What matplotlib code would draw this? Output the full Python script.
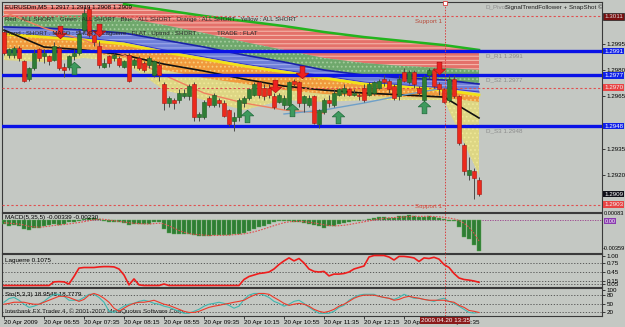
import matplotlib
matplotlib.use("Agg")
import matplotlib.pyplot as plt
from matplotlib.path import Path
from matplotlib.transforms import blended_transform_factory as btf

# ---------------- data ----------------
open_ = [1.3002, 1.2989, 1.2989, 1.2993, 1.2985, 1.2975, 1.2981, 1.2992, 1.2988, 1.2988,
         1.2986, 1.2993, 1.2982, 1.2982, 1.2988, 1.2990, 1.3003, 1.3015, 1.3000, 1.2994,
         1.2982, 1.2988, 1.2987, 1.2987, 1.2982, 1.2989, 1.2983, 1.2987, 1.2984, 1.2983,
         1.2977, 1.2983, 1.2972, 1.2961, 1.2963, 1.2963, 1.2965, 1.2965, 1.2972, 1.2953,
         1.2953, 1.2964, 1.2960, 1.2963, 1.2961, 1.2957, 1.2951, 1.2953, 1.2961, 1.2964,
         1.2966, 1.2973, 1.2970, 1.2970, 1.2965, 1.2962, 1.2960, 1.2960, 1.2974, 1.2973,
         1.2961, 1.2960, 1.2965, 1.2949, 1.2956, 1.2963, 1.2960, 1.2966, 1.2967, 1.2969,
         1.2966, 1.2966, 1.2970, 1.2966, 1.2967, 1.2970, 1.2975, 1.2974, 1.2971, 1.2965,
         1.2979, 1.2973, 1.2979, 1.2970, 1.2963, 1.2977, 1.2980, 1.2972, 1.2969, 1.2963,
         1.2975, 1.2965, 1.2937, 1.2920, 1.2922, 1.2917]
high = [1.3003, 1.2993, 1.2994, 1.2994, 1.2986, 1.2982, 1.2992, 1.2993, 1.2992, 1.2989,
        1.2996, 1.2994, 1.2984, 1.2989, 1.2992, 1.3003, 1.3017, 1.3017, 1.3001, 1.2997,
        1.2987, 1.2989, 1.2990, 1.2988, 1.2986, 1.2990, 1.2987, 1.2988, 1.2985, 1.2988,
        1.2986, 1.2985, 1.2973, 1.2965, 1.2964, 1.2969, 1.2969, 1.2972, 1.2973, 1.2956,
        1.2963, 1.2965, 1.2967, 1.2964, 1.2963, 1.2958, 1.2956, 1.2964, 1.2965, 1.2970,
        1.2973, 1.2974, 1.2972, 1.2972, 1.2967, 1.2967, 1.2966, 1.2974, 1.2975, 1.2974,
        1.2966, 1.2966, 1.2966, 1.2958, 1.2964, 1.2966, 1.2969, 1.2970, 1.2972, 1.2970,
        1.2969, 1.2967, 1.2972, 1.2973, 1.2974, 1.2975, 1.2977, 1.2975, 1.2972, 1.2977,
        1.2981, 1.2980, 1.2980, 1.2971, 1.2977, 1.2981, 1.2981, 1.2973, 1.2970, 1.2977,
        1.2977, 1.2966, 1.2938, 1.2930, 1.2924, 1.2919]
low = [1.2989, 1.2987, 1.2987, 1.2985, 1.2973, 1.2974, 1.2980, 1.2985, 1.2984, 1.2983,
       1.2985, 1.2980, 1.2976, 1.2980, 1.2986, 1.2989, 1.3002, 1.2999, 1.2994, 1.2981,
       1.2981, 1.2982, 1.2985, 1.2982, 1.2981, 1.2973, 1.2981, 1.2980, 1.2979, 1.2981,
       1.2976, 1.2974, 1.2957, 1.2959, 1.2958, 1.2961, 1.2964, 1.2963, 1.2951, 1.2951,
       1.2952, 1.2959, 1.2959, 1.2959, 1.2953, 1.2948, 1.2945, 1.2951, 1.2959, 1.2963,
       1.2965, 1.2964, 1.2963, 1.2964, 1.2958, 1.2961, 1.2958, 1.2959, 1.2971, 1.2959,
       1.2956, 1.2959, 1.2949, 1.2947, 1.2955, 1.2959, 1.2959, 1.2965, 1.2965, 1.2965,
       1.2965, 1.2963, 1.2962, 1.2965, 1.2966, 1.2969, 1.2971, 1.2967, 1.2963, 1.2963,
       1.2973, 1.2972, 1.2970, 1.2966, 1.2962, 1.2975, 1.2970, 1.2966, 1.2961, 1.2962,
       1.2964, 1.2937, 1.2920, 1.2917, 1.2906, 1.2908]
close = [1.2990, 1.2992, 1.2993, 1.2987, 1.2974, 1.2981, 1.2990, 1.2987, 1.2990, 1.2985,
         1.2994, 1.2981, 1.2980, 1.2988, 1.2990, 1.3001, 1.3013, 1.3000, 1.2996, 1.2983,
         1.2984, 1.2984, 1.2989, 1.2983, 1.2985, 1.2974, 1.2986, 1.2981, 1.2980, 1.2987,
         1.2985, 1.2977, 1.2961, 1.2964, 1.2961, 1.2967, 1.2967, 1.2971, 1.2953, 1.2955,
         1.2962, 1.2960, 1.2966, 1.2961, 1.2954, 1.2949, 1.2953, 1.2963, 1.2964, 1.2969,
         1.2972, 1.2966, 1.2965, 1.2966, 1.2959, 1.2966, 1.2964, 1.2973, 1.2972, 1.2961,
         1.2965, 1.2964, 1.2950, 1.2957, 1.2963, 1.2961, 1.2967, 1.2969, 1.2970, 1.2966,
         1.2967, 1.2965, 1.2963, 1.2972, 1.2973, 1.2974, 1.2973, 1.2969, 1.2964, 1.2975,
         1.2974, 1.2979, 1.2972, 1.2967, 1.2976, 1.2980, 1.2971, 1.2969, 1.2962, 1.2975,
         1.2965, 1.2938, 1.2922, 1.2923, 1.2918, 1.2909]

# indicator envelope bands, read at anchor bars
band_bars = [0, 8, 16, 24, 32, 40, 48, 56, 64, 72, 80, 88, 95]
red_top = [1.30174, 1.30174, 1.30174, 1.30179, 1.30145, 1.30111, 1.30082, 1.30053, 1.30019, 1.29990, 1.29967, 1.29944, 1.29916]
red_bot = [1.30105, 1.30111, 1.30116, 1.30099, 1.30059, 1.30013, 1.29962, 1.29916, 1.29870, 1.29841, 1.29824, 1.29813, 1.29801]
green_bot = [1.30048, 1.30042, 1.30030, 1.30013, 1.29973, 1.29933, 1.29887, 1.29847, 1.29801, 1.29772, 1.29755, 1.29744, 1.29721]
blue_bot = [1.30013, 1.29996, 1.29985, 1.29962, 1.29916, 1.29876, 1.29835, 1.29801, 1.29767, 1.29732, 1.29715, 1.29698, 1.29675]
yellow_line = [1.30007, 1.29990, 1.29973, 1.29950, 1.29904, 1.29864, 1.29824, 1.29790, 1.29755, 1.29721, 1.29704, 1.29686, 1.29658]
orange_bot = [1.29927, 1.29916, 1.29904, 1.29870, 1.29801, 1.29755, 1.29721, 1.29686, 1.29663, 1.29652, 1.29646, 1.29641, 1.29618]
yellow_bot = [1.29858, 1.29847, 1.29870, 1.29847, 1.29686, 1.29629, 1.29572, 1.29629, 1.29618, 1.29629, 1.29629, 1.29629, 1.29199]
black_ma = [1.30030, 1.29933, 1.29916, 1.29887, 1.29835, 1.29795, 1.29749, 1.29709, 1.29686, 1.29669, 1.29658, 1.29646, 1.29526]
salmon_bars = [0, 8, 16, 24, 32, 40, 48, 56, 64]
salmon_ma = [1.30134, 1.30042, 1.29973, 1.29887, 1.29772, 1.29669, 1.29612, 1.29572, 1.29554]
lblue_bars = [56, 64, 72, 80, 88]
lblue_ma = [1.29549, 1.29572, 1.29612, 1.29658, 1.29698]

pivot_blue = [1.2991, 1.2977, 1.2948]
pivot_names = ["D_R1 1.2991", "D_S2 1.2977", "D_S3 1.2948"]
support_red = [1.3011, 1.2970, 1.2903]
price_ticks = [1.2995, 1.2980, 1.2965, 1.2935, 1.2920]

up_arrow_bars = [14, 48.6, 57.6, 66.8, 84]
up_arrow_px = [1.2981, 1.2954, 1.2957, 1.2953, 1.2959]
dn_arrow_bars = [11.2, 19, 54.2, 59.6, 87]
dn_arrow_px = [1.3002, 1.3003, 1.2971, 1.2979, 1.2981]
cursor_bar = 88.2

macd_main = [-0.00044, -0.00066, -0.00055, -0.00066, -0.00099, -0.00110, -0.00088, -0.00088, -0.00066, -0.00055,
             -0.00044, -0.00055, -0.00044, -0.00022, -0.00022, -0.00011, 0.00011, 0.00022, 0.00022, 0.00011,
             -0.00011, -0.00022, -0.00022, -0.00022, -0.00033, -0.00055, -0.00044, -0.00044, -0.00044, -0.00044,
             -0.00022, -0.00022, -0.00099, -0.00143, -0.00154, -0.00154, -0.00154, -0.00154, -0.00165, -0.00176,
             -0.00176, -0.00176, -0.00165, -0.00165, -0.00165, -0.00165, -0.00154, -0.00154, -0.00143, -0.00121,
             -0.00099, -0.00077, -0.00066, -0.00044, -0.00022, -0.00011, -0.00011, -0.00011, -0.00022, -0.00022,
             -0.00033, -0.00044, -0.00055, -0.00066, -0.00088, -0.00066, -0.00066, -0.00044, -0.00033, -0.00022,
             -0.00011, -0.00011, -0.00005, 0.00011, 0.00022, 0.00033, 0.00033, 0.00022, 0.00022, 0.00044,
             0.00044, 0.00055, 0.00044, 0.00033, 0.00033, 0.00044, 0.00033, 0.00022, 0.00011, -0.00011,
             -0.00011, -0.00077, -0.00187, -0.00209, -0.00275, -0.00339]
macd_signal = [-0.00030, -0.00035, -0.00040, -0.00045, -0.00055, -0.00070, -0.00075, -0.00080, -0.00075, -0.00068,
               -0.00060, -0.00055, -0.00050, -0.00043, -0.00035, -0.00028, -0.00018, -0.00008, 0.00003, 0.00010,
               0.00008, 0.00000, -0.00008, -0.00015, -0.00022, -0.00030, -0.00036, -0.00040, -0.00043, -0.00044,
               -0.00040, -0.00035, -0.00042, -0.00065, -0.00090, -0.00115, -0.00135, -0.00150, -0.00158, -0.00162,
               -0.00166, -0.00170, -0.00170, -0.00169, -0.00168, -0.00166, -0.00162, -0.00158, -0.00152, -0.00143,
               -0.00130, -0.00115, -0.00098, -0.00080, -0.00062, -0.00045, -0.00030, -0.00020, -0.00016, -0.00015,
               -0.00019, -0.00025, -0.00033, -0.00042, -0.00053, -0.00060, -0.00064, -0.00063, -0.00058, -0.00050,
               -0.00040, -0.00030, -0.00020, -0.00010, 0.00000, 0.00010, 0.00018, 0.00024, 0.00027, 0.00030,
               0.00034, 0.00038, 0.00040, 0.00040, 0.00040, 0.00040, 0.00038, 0.00035, 0.00030, 0.00022,
               0.00012, -0.00005, -0.00035, -0.00080, -0.00145, -0.00230]

laguerre = [0.0, 0.0, 0.0, 0.0, 0.0, 0.0, 0.0, 0.0, 0.0, 0.0,
            0.12, 0.13, 0.12, 0.05, 0.30, 0.58, 0.60, 0.60, 0.60, 0.62,
            0.63, 0.63, 0.62, 0.55, 0.35, 0.02, 0.22, 0.02, 0.0, 0.0,
            0.0, 0.0, 0.05, 0.0, 0.0, 0.0, 0.0, 0.0, 0.0, 0.0,
            0.0, 0.0, 0.0, 0.0, 0.0, 0.0, 0.0, 0.0, 0.20, 0.30,
            0.35, 0.40, 0.42, 0.45, 0.55, 0.70, 0.82, 0.92, 0.82, 0.90,
            0.75, 0.55, 0.47, 0.45, 0.47, 0.32, 0.38, 0.38, 0.40, 0.45,
            0.55, 0.60, 0.65, 0.95, 1.0, 1.0, 1.0, 0.95, 0.85, 0.97,
            0.97, 0.95, 0.92, 0.80, 0.92, 0.90, 0.94, 0.88, 0.70, 0.60,
            0.40, 0.25, 0.20, 0.18, 0.15, 0.1075]
laguerre_levels = [0.75, 0.45, 0.15, 0.05]

stoch_main = [55, 68, 72, 62, 48, 37, 41, 48, 58, 72,
              83, 83, 76, 62, 62, 62, 72, 83, 83, 72,
              55, 23, 19, 30, 41, 48, 51, 58, 62, 58,
              51, 48, 41, 37, 30, 23, 16, 16, 23, 30,
              41, 48, 51, 55, 51, 44, 34, 41, 65, 80,
              86, 86, 80, 72, 58, 51, 41, 48, 58, 62,
              51, 37, 26, 16, 16, 16, 23, 37, 44, 62,
              72, 80, 83, 83, 83, 76, 72, 69, 65, 72,
              83, 76, 69, 69, 65, 62, 58, 65, 69, 58,
              51, 41, 30, 19, 17, 18.9548]
stoch_signal = [48, 51, 55, 55, 55, 51, 48, 48, 55, 62,
                69, 76, 76, 72, 65, 58, 65, 80, 86, 80,
                69, 55, 34, 23, 34, 44, 51, 55, 55, 58,
                62, 55, 48, 44, 37, 30, 23, 19, 19, 23,
                30, 37, 41, 44, 48, 51, 55, 58, 62, 72,
                80, 86, 86, 83, 72, 62, 51, 44, 48, 51,
                48, 41, 30, 23, 19, 23, 30, 41, 48, 58,
                69, 76, 80, 80, 80, 76, 72, 69, 62, 65,
                72, 76, 72, 69, 65, 62, 62, 62, 62, 58,
                55, 44, 37, 26, 23, 18.7779]
stoch_levels = [80, 50, 20]

time_tick_bars = [0, 8, 16, 24, 32, 40, 48, 56, 64, 72, 80, 88]
time_tick_labels = ["20 Apr 2009", "20 Apr 06:55", "20 Apr 07:35", "20 Apr 08:15", "20 Apr 08:55",
                    "20 Apr 09:35", "20 Apr 10:15", "20 Apr 10:55", "20 Apr 11:35", "20 Apr 12:15",
                    "20 Apr 12:55", "20 Apr 13:35"]

# ---------------- figure ----------------
W, H = 625, 327
BG = "#C4C8C3"
FS = 4.5
plt.rcParams["font.family"] = ["Liberation Sans", "DejaVu Sans"]
plt.rcParams["hatch.linewidth"] = 0.8
fig = plt.figure(figsize=(6.25, 3.27), dpi=100)
fig.patch.set_facecolor(BG)

def ax_at(x0, y0, x1, y1):
    a = fig.add_axes([x0 / W, 1 - y1 / H, (x1 - x0) / W, (y1 - y0) / H])
    a.set_facecolor(BG)
    for s in a.spines.values():
        s.set_color("#3A3A3A")
        s.set_linewidth(0.8)
    a.tick_params(axis="x", which="both", bottom=False, labelbottom=False)
    a.yaxis.tick_right()
    a.tick_params(axis="y", length=2, width=0.5, labelsize=FS, pad=1.2, colors="black")
    return a

XL = (-0.4, 119.6)
ax = ax_at(2, 2, 602, 212)
ax.set_xlim(*XL)
ax.set_ylim(1.28987, 1.30191)

# bands
ax.fill_between(band_bars, red_bot, red_top, facecolor="#E4716A", edgecolor="#F4B4A8", hatch="----", linewidth=0, zorder=1)
ax.fill_between(band_bars, green_bot, red_bot, facecolor="#6FA86C", edgecolor="#A2CC9C", hatch="....", linewidth=0, zorder=1)
ax.fill_between(band_bars, blue_bot, green_bot, facecolor="#6E7FD8", edgecolor="#9AA6E8", hatch="----", linewidth=0, zorder=1)
ax.fill_between(band_bars, orange_bot, yellow_line, facecolor="#F09A3C", edgecolor="#F8CD7A", hatch="....", linewidth=0, zorder=1)
ax.fill_between(band_bars, yellow_bot, orange_bot, facecolor="#EFE15A", edgecolor="#F7F0A0", hatch="....", linewidth=0, alpha=0.6, zorder=1)
ax.plot(band_bars[3:], red_top[3:], color="#22B41E", lw=1.8, zorder=2)
ax.plot(band_bars, green_bot, color="#1A22A8", lw=1.2, zorder=2)
ax.plot(band_bars, blue_bot, color="#3C3CC8", lw=0.8, zorder=2)
ax.plot(band_bars, yellow_line, color="#F2E21A", lw=2.0, zorder=2)
ax.plot(band_bars, black_ma, color="#111111", lw=1.2, zorder=2)
ax.plot(salmon_bars, salmon_ma, color="#F08060", lw=1.0, zorder=2)
ax.plot(lblue_bars, lblue_ma, color="#6FA0C8", lw=1.0, zorder=2)

# horizontal levels
for p in pivot_blue:
    ax.axhline(p, color="#0A12E6", lw=2.4, zorder=3)
for p in support_red:
    ax.axhline(p, color="#E05050", lw=0.8, ls=(0, (2, 2)), zorder=3)

# candles
for i in range(len(open_)):
    o, h, l, c = open_[i], high[i], low[i], close[i]
    ax.vlines(i, l, h, color="#4A4A4A", lw=0.7, zorder=4)
    if c >= o:
        ax.bar(i, max(c - o, 0.00004), bottom=o, width=0.62, color="#2F7D34", edgecolor="#1D5A20", lw=0.4, zorder=5)
    else:
        ax.bar(i, o - c, bottom=c, width=0.62, color="#EC2A1C", edgecolor="#A81410", lw=0.4, zorder=5)

# arrows
up_path = Path([(0, 1), (-1, 0.1), (-0.38, 0.1), (-0.38, -1), (0.38, -1), (0.38, 0.1), (1, 0.1), (0, 1)])
dn_path = Path([(0, -1), (-1, -0.1), (-0.38, -0.1), (-0.38, 1), (0.38, 1), (0.38, -0.1), (1, -0.1), (0, -1)])
ax.plot(up_arrow_bars, up_arrow_px, ls="none", marker=up_path, ms=9, mfc="#3E9A5E", mec="#1E6A3A", mew=0.5, zorder=6)
ax.plot(dn_arrow_bars, dn_arrow_px, ls="none", marker=dn_path, ms=9, mfc="#EE2020", mec="#B01010", mew=0.5, zorder=6)

# right axis labels
ax.set_yticks(price_ticks)
ax.set_yticklabels([f"{p:.4f}" for p in price_ticks])
tr = btf(ax.transAxes, ax.transData)
for p in pivot_blue:
    ax.text(1.004, p, f"{p:.4f}", transform=tr, fontsize=FS, color="white", va="center", ha="left",
            bbox=dict(boxstyle="square,pad=0.15", fc="#1020E8", ec="none"), clip_on=False, zorder=10)
ax.text(1.004, support_red[0], f"{support_red[0]:.4f}", transform=tr, fontsize=FS, color="#E0E0E0", va="center", ha="left",
        bbox=dict(boxstyle="square,pad=0.15", fc="#7A1010", ec="#222222", lw=0.5), clip_on=False, zorder=10)
for p in support_red[1:]:
    ax.text(1.004, p, f"{p:.4f}", transform=tr, fontsize=FS, color="#F4F4F4", va="center", ha="left",
            bbox=dict(boxstyle="square,pad=0.15", fc="#E84444", ec="none"), clip_on=False, zorder=10)
ax.text(1.004, close[-1], f"{close[-1]:.4f}", transform=tr, fontsize=FS, color="white", va="center", ha="left",
        bbox=dict(boxstyle="square,pad=0.15", fc="#101018", ec="none"), clip_on=False, zorder=10)

# texts in main chart
ax.text(3 / 600, 1 - 5 / 210, f"EURUSDm,M5  {open_[-1]:.4f} {high[-1]:.4f} {low[-1]:.4f} {close[-1]:.4f}",
        transform=ax.transAxes, fontsize=FS, va="center", ha="left", color="black", zorder=8)
ax.text(3 / 600, 1 - 18 / 210, "Red : ALL SHORT . Green : ALL SHORT . Blue : ALL SHORT . Orange : ALL SHORT . Yellow : ALL SHORT",
        transform=ax.transAxes, fontsize=4.4, va="center", ha="left", color="#2A2A2A", zorder=8)
ax.text(3 / 600, 1 - 32 / 210, "Trend : SHORT . MACD : SHORT . Laguerre : FLAT . Uptrnd : SHORT .          TRADE : FLAT",
        transform=ax.transAxes, fontsize=4.4, va="center", ha="left", color="#2A2A2A", zorder=8)
ax.text(483 / 600, 1 - 5 / 210, "D_Pivot", transform=ax.transAxes, fontsize=FS, va="center", ha="left", color="#8E8E8E", zorder=8)
ax.text(503 / 600, 1 - 5 / 210, "SignalTrendFollower + SnapShot \u00a9", transform=ax.transAxes, fontsize=FS,
        va="center", ha="left", color="#202020", zorder=9)
for p, n in zip(pivot_blue, pivot_names):
    ax.text(96.5, p - 0.00025, n, fontsize=FS, va="center", ha="left", color="#8C8C8C", zorder=8)
ax.text(82.2, support_red[0] - 0.00030, "Support 1", fontsize=FS, va="center", ha="left", color="#B84A3A", zorder=8)
ax.text(82.2, support_red[2] - 0.00012, "Support 1", fontsize=FS, va="center", ha="left", color="#D05040", zorder=8)

# cursor line
ax.axvline(cursor_bar, color="#D84040", lw=0.7, ls=(0, (1.5, 1.5)), zorder=7)
ax.plot([cursor_bar], [1.30185], marker="s", ms=3, mfc="white", mec="#D84040", mew=0.6, clip_on=False, zorder=11)

# ---------------- MACD ----------------
am = ax_at(2, 213, 602, 253)
am.set_xlim(*XL)
am.set_ylim(-0.00363, 0.00077)
am.bar(range(len(macd_main)), macd_main, width=0.62, color="#2F7D34", edgecolor="#5AAA50", lw=0.3, zorder=3)
am.plot(range(len(macd_signal)), macd_signal, color="#E05050", lw=0.8, ls=(0, (1.5, 1.2)), zorder=4)
am.axhline(0, color="#9A3A8A", lw=0.6, ls=(0, (1.5, 1.5)), zorder=2)
am.set_yticks([])
am.text(3 / 600, 0.88, f"MACD(5,35,5) {macd_main[-1]:.5f} {macd_signal[-1]:.5f}", transform=am.transAxes,
        fontsize=FS, va="center", ha="left", color="black", zorder=8)
trm = btf(am.transAxes, am.transData)
am.text(1.003, 0.00068, "0.00083", transform=trm, fontsize=4.1, va="center", ha="left", clip_on=False)
am.text(1.004, -0.00012, "0.00", transform=trm, fontsize=4.1, va="center", ha="left", color="white",
        bbox=dict(boxstyle="square,pad=0.1", fc="#8A3AB0", ec="none"), clip_on=False)
am.text(1.001, -0.00318, "-0.00359", transform=trm, fontsize=4.1, va="center", ha="left", clip_on=False)
am.axvline(cursor_bar, color="#D84040", lw=0.7, ls=(0, (1.5, 1.5)), zorder=7)

# ---------------- Laguerre ----------------
al = ax_at(2, 254, 602, 287)
al.set_xlim(*XL)
al.set_ylim(-0.05, 1.05)
for lv in laguerre_levels:
    al.axhline(lv, color="#4A4A4A", lw=0.6, ls=(0, (1.5, 2)), zorder=2)
al.plot(range(len(laguerre)), laguerre, color="#EE1C1C", lw=1.2, zorder=4)
al.set_yticks([1.0, 0.75, 0.45, 0.15, 0.05])
al.set_yticklabels(["1.00", "0.75", "0.45", "0.15", "0.05"])
al.text(3 / 600, 0.80, f"Laguerre {laguerre[-1]:.4f}", transform=al.transAxes, fontsize=FS, va="center", ha="left")
al.axvline(cursor_bar, color="#D84040", lw=0.7, ls=(0, (1.5, 1.5)), zorder=7)

# ---------------- Stochastic ----------------
ast = ax_at(2, 288, 602, 316)
ast.set_xlim(*XL)
ast.set_ylim(6.4, 105.3)
for lv in stoch_levels:
    ast.axhline(lv, color="#4A4A4A", lw=0.6, ls=(0, (1.5, 2)), zorder=2)
ast.plot(range(len(stoch_main)), stoch_main, color="#3FB8B0", lw=0.8, zorder=4)
ast.plot(range(len(stoch_signal)), stoch_signal, color="#EE3A2A", lw=0.8, zorder=5)
ast.set_yticks([100, 80, 50, 20])
ast.set_yticklabels(["100", "80", "50", "20"])
ast.text(3 / 600, 0.78, f"Sto(5,3,3) {stoch_main[-1]:.4f} {stoch_signal[-1]:.4f}", transform=ast.transAxes,
         fontsize=FS, va="center", ha="left")
ast.text(3 / 600, 0.18, "Interbank FX Trader 4, \u00a9 2001-2007 MetaQuotes Software Corp.", transform=ast.transAxes,
         fontsize=FS, va="center", ha="left", color="#202020")
ast.axvline(cursor_bar, color="#D84040", lw=0.7, ls=(0, (1.5, 1.5)), zorder=7)
ast.tick_params(axis="x", bottom=True, labelbottom=True, length=2, width=0.5, labelsize=FS, pad=1)
ast.set_xticks(time_tick_bars)
ast.set_xticklabels(time_tick_labels)
for lab in ast.get_xticklabels():
    lab.set_horizontalalignment("left")
ast.text(cursor_bar, -0.07, "2009.04.20 13:35", transform=btf(ast.transData, ast.transAxes), fontsize=FS,
         color="white", va="top", ha="center", bbox=dict(boxstyle="square,pad=0.15", fc="#8A1A1A", ec="none"),
         clip_on=False, zorder=12)

fig.savefig("out.png", dpi=100, facecolor=BG)
